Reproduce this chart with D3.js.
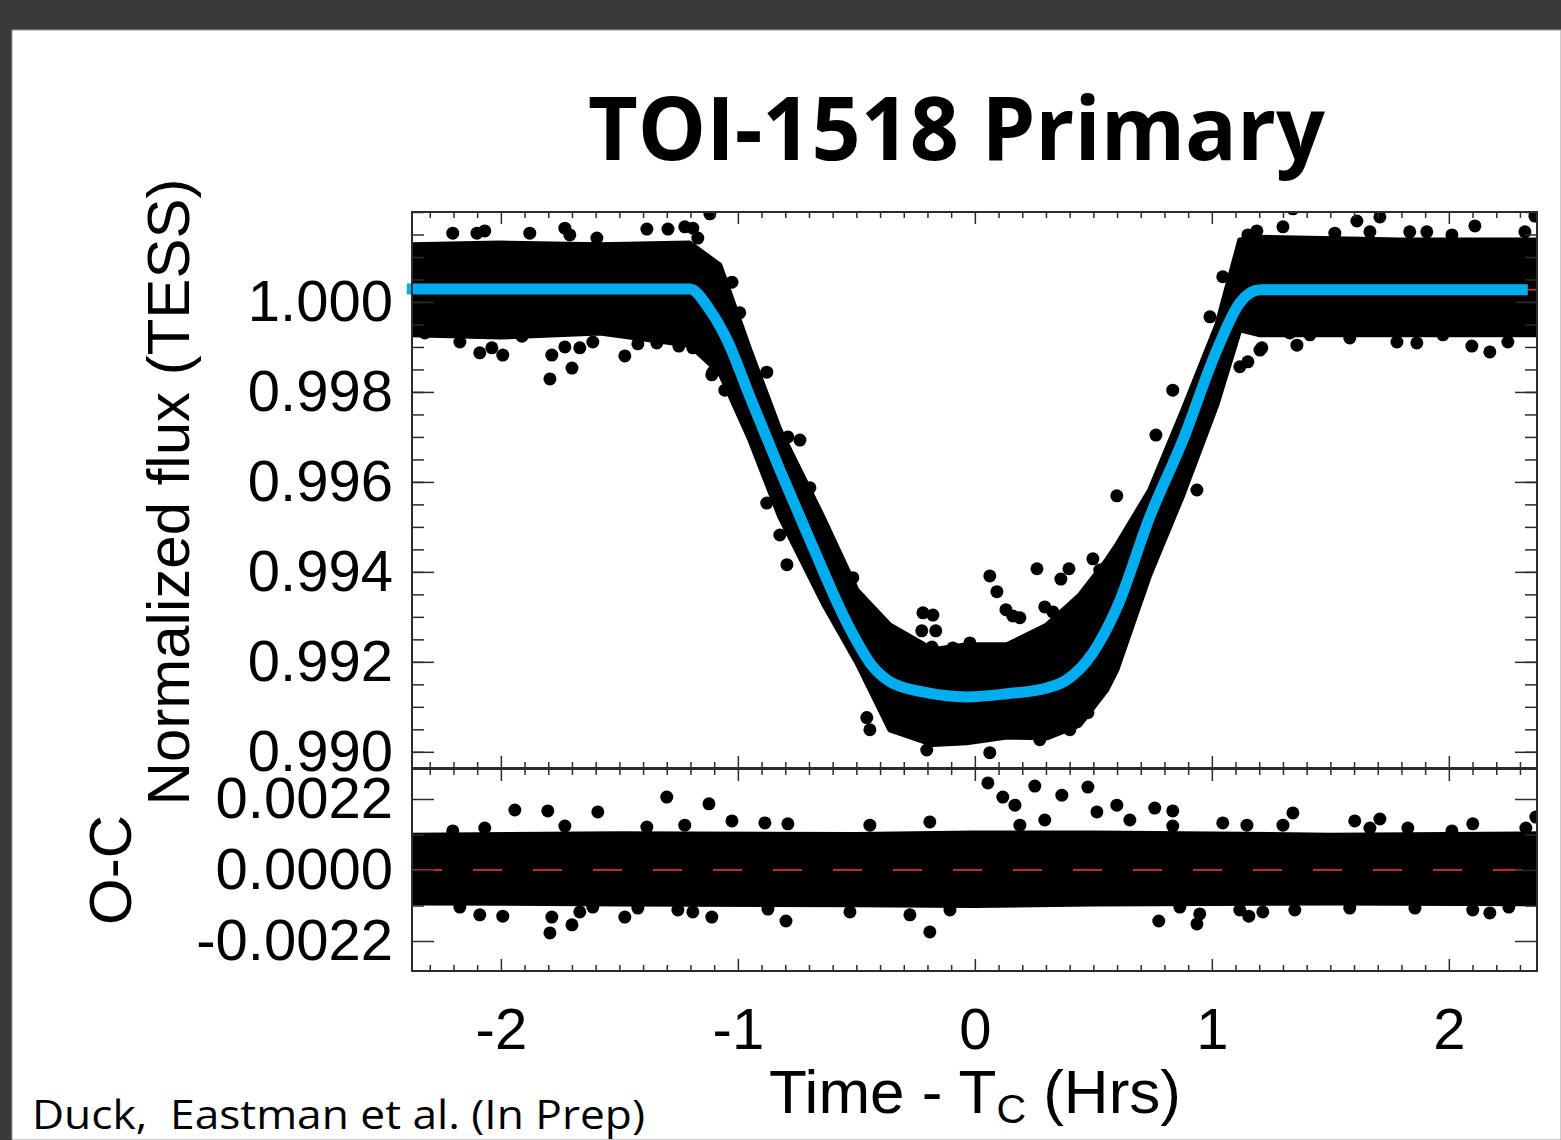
<!DOCTYPE html>
<html>
<head>
<meta charset="utf-8">
<script src="https://cdn.jsdelivr.net/npm/d3@7"></script>
<style>
  html, body { margin: 0; padding: 0; background: #3a3a3a; }
  svg { display: block; }
</style>
</head>
<body>
<div id="chart"></div>
<script>
// ---- data ----
// model light curve (time in hrs from Tc, normalized flux)
var modelT = [-2.397, -1.203, -1.118, -1.046, -0.949, -0.823, -0.684, -0.540, -0.430, -0.359,
              -0.219, -0.034, 0.135, 0.304, 0.388, 0.498, 0.599, 0.738, 0.878, 1.021, 1.118, 1.203, 2.333];
var modelF = [1.00029, 1.00029, 0.99982, 0.99916, 0.99789, 0.99627, 0.99456, 0.99287, 0.99189, 0.99156,
              0.99133, 0.99122, 0.99129, 0.99142, 0.99160, 0.99220, 0.99320, 0.99522, 0.99693, 0.99893, 0.99998, 1.00027, 1.00027];

// dense part of the TESS point cloud: upper / lower edge
var bandT  = [-2.375, -2.004, -1.582, -1.203, -1.076, -0.949, -0.823, -0.641, -0.498, -0.359, -0.177, -0.034,
              0.135, 0.304, 0.443, 0.557, 0.599, 0.738, 0.878, 1.021, 1.118, 1.203, 1.793, 2.372];
var bandHi = [1.00127, 1.00131, 1.00127, 1.00131, 1.00082, 0.99893, 0.99716, 0.99522, 0.99360, 0.99282, 0.99227, 0.99238,
              0.99238, 0.99282, 0.99349, 0.99427, 0.99460, 0.99582, 0.99760, 0.99949, 1.00138, 1.00144, 1.00138, 1.00138];
var bandLo = [0.99927, 0.99922, 0.99931, 0.99904, 0.99842, 0.99693, 0.99522, 0.99331, 0.99198, 0.99049, 0.99016, 0.99020,
              0.99033, 0.99031, 0.99060, 0.99138, 0.99182, 0.99393, 0.99571, 0.99771, 0.99938, 0.99927, 0.99927, 0.99927];

// individual points standing out of the cloud
var fluxDotT = [-2.203, -2.101, -2.068, -1.878, -1.730, -1.709, -1.595, -1.384, -1.295, -1.224, -1.190, -1.118, -1.169,
                -2.321, -2.245, -2.173, -2.089, -2.038, -1.992, -1.911, -1.785, -1.793, -1.700, -1.730, -1.667, -1.612,
                -1.477, -1.422, -1.342, -1.249, -1.190, -1.131, -1.105, -1.055, -0.992, -1.025, -0.878, -0.789, -0.738,
                -0.696, -0.793, -0.515, -0.878, -0.823, -0.219, -0.177, -0.456, -0.443, -1.110,
                0.063, 0.262, 0.397, 0.363, 0.093, 0.131, 0.160, 0.190, 0.295, 0.329, -0.224, -0.165, -0.181, -0.093, -0.021,
                0.498, 0.527, 0.063, -0.203, 0.274, 0.401, 0.477,
                0.835, 0.764, 0.599, 0.937, 1.152, 1.203, 1.329, 1.359, 0.612,
                1.152, 1.190, 1.300, 1.342, 1.612, 1.709, 1.667, 1.835, 1.907, 2.013, 2.110, 2.321, 2.363, 1.519, 1.046, 0.992,
                1.414, 1.582, 1.781, 1.865, 1.975, 2.097, 2.173, 2.249, 1.211, 1.118];
var fluxDotF = [1.00153, 1.00153, 1.00158, 1.00153, 1.00164, 1.00149, 1.00142, 1.00162, 1.00162, 1.00167, 1.00164, 1.00196, 1.00142,
                0.99931, 0.99938, 0.99911, 0.99887, 0.99898, 0.99882, 0.99924, 0.99882, 0.99829, 0.99853, 0.99900, 0.99898, 0.99911,
                0.99880, 0.99907, 0.99909, 0.99902, 0.99898, 0.99882, 0.99844, 0.99804, 0.99976, 1.00044, 0.99844, 0.99700, 0.99693,
                0.99587, 0.99416, 0.99387, 0.99553, 0.99482, 0.99309, 0.99304, 0.99076, 0.99049, 0.99838,
                0.99391, 0.99407, 0.99407, 0.99384, 0.99356, 0.99316, 0.99302, 0.99298, 0.99322, 0.99311, 0.99269, 0.99269, 0.99233, 0.99231, 0.99242,
                0.99429, 0.99404, 0.98998, 0.99004, 0.99027, 0.99049, 0.99087,
                0.99804, 0.99704, 0.99569, 0.99582, 0.99867, 0.99893, 0.99931, 0.99904, 0.99242,
                1.00149, 1.00158, 1.00167, 1.00207, 1.00180, 1.00189, 1.00156, 1.00156, 1.00156, 1.00149, 1.00169, 1.00156, 1.00191, 1.00153, 1.00056, 0.99967,
                0.99927, 0.99920, 0.99911, 0.99909, 0.99927, 0.99902, 0.99889, 0.99911, 0.99898, 0.99856];

// residuals (O-C)
var resBandT  = [-2.375, -1.5, -0.5, 0, 0.5, 1.5, 2.372];
var resBandHi = [0.00108, 0.00112, 0.00110, 0.00115, 0.00115, 0.00108, 0.00112];
var resBandLo = [-0.00102, -0.00105, -0.00108, -0.00110, -0.00105, -0.00102, -0.00105];

var resDotT = [-1.941, -1.802, -1.591, -1.300, -1.122, -2.203, -2.068, -1.730, -1.384, -1.224, -1.025, -0.886, -0.789,
               -2.173, -2.089, -1.992, -1.785, -1.793, -1.700, -1.667, -1.612, -1.477, -1.422, -1.253, -1.190, -1.110, -0.873, -0.797,
               0.759, 0.835, 0.835, 1.342, 1.046, 1.148, 1.300, 1.603, 1.709, 1.667, 1.827, 2.013, 2.101, 2.325, 2.367,
               0.776, 0.937, 0.949, 0.865, 1.118, 1.156, 1.215, 1.350, 1.582, 1.857, 2.101, 2.173, 2.253,
               0.055, 0.118, 0.169, 0.253, 0.295, 0.367, 0.477, 0.515, 0.599, 0.654,
               -0.190, -0.274, -0.527, -0.105, -0.443, -0.190, 0.190];
var resDotR = [0.00186, 0.00183, 0.00180, 0.00226, 0.00205, 0.00121, 0.00130, 0.00136, 0.00133, 0.00139, 0.00152, 0.00146, 0.00143,
               -0.00115, -0.00139, -0.00143, -0.00146, -0.00195, -0.00170, -0.00130, -0.00115, -0.00146, -0.00118, -0.00124, -0.00130, -0.00146, -0.00121, -0.00158,
               0.00192, 0.00183, 0.00136, 0.00177, 0.00146, 0.00139, 0.00139, 0.00152, 0.00158, 0.00130, 0.00130, 0.00121, 0.00143, 0.00130, 0.00164,
               -0.00158, -0.00167, -0.00136, -0.00115, -0.00124, -0.00143, -0.00130, -0.00124, -0.00118, -0.00118, -0.00124, -0.00133, -0.00115,
               0.00270, 0.00226, 0.00201, 0.00260, 0.00155, 0.00232, 0.00257, 0.00180, 0.00201, 0.00155,
               -0.00192, -0.00139, -0.00130, -0.00124, 0.00139, 0.00149, 0.00139];

// ticks
var timeTicks = [-2, -1, 0, 1, 2];
var fluxTicks = [0.990, 0.992, 0.994, 0.996, 0.998, 1.000];
var resTicks  = [-0.0022, 0, 0.0022];

var titleText = "TOI-1518 Primary";
var creditText = "Duck,  Eastman et al. (In Prep)";

// ---- layout ----
var W = 1561, H = 1140;
var left = 412, right = 1537;
var topY0 = 212, topY1 = 768, resY0 = 769, resY1 = 971;
var tickFont = "'Liberation Sans', Arial, Helvetica, sans-serif";
var frameColor = "#2b2b2b";
var dotR = 6.5;

var x = d3.scaleLinear().domain([-2.375, 2.372]).range([left, right]);
var yFlux = d3.scaleLinear().domain([0.98964, 1.002]).range([topY1, topY0]);
var yRes = d3.scaleLinear().domain([-0.00313, 0.00313]).range([resY1, resY0]);

var timeMinor = d3.range(-23, 24).filter(d => d % 10 !== 0).map(d => d / 10);
var fluxMinor = d3.range(0, 25).map(d => 0.990 + d * 0.0005);
var resMinor = [-0.0011, 0.0011];

var svg = d3.select("#chart").append("svg")
    .attr("width", W)
    .attr("height", H);

svg.append("rect").attr("width", W).attr("height", H).attr("fill", "#3a3a3a");
svg.append("rect").attr("x", 12).attr("y", 30).attr("width", W - 12).attr("height", H - 30)
    .attr("fill", "#ffffff").attr("stroke", "#9a9a9a").attr("stroke-width", 1);

var defs = svg.append("defs");
defs.append("clipPath").attr("id", "clipTop").append("rect")
    .attr("x", left).attr("y", topY0).attr("width", right - left).attr("height", topY1 - topY0);
defs.append("clipPath").attr("id", "clipRes").append("rect")
    .attr("x", left).attr("y", resY0).attr("width", right - left).attr("height", resY1 - resY0);

// ---- top panel: light curve ----
var band = bandT.map((t, i) => ({ t: t, hi: bandHi[i], lo: bandLo[i] }));
var fluxDots = fluxDotT.map((t, i) => ({ t: t, f: fluxDotF[i] }));
var model = modelT.map((t, i) => ({ t: t, f: modelF[i] }));

var gTop = svg.append("g").attr("clip-path", "url(#clipTop)");

gTop.append("path")
    .datum(band)
    .attr("fill", "#000")
    .attr("stroke", "#000")
    .attr("stroke-width", 5)
    .attr("stroke-linejoin", "round")
    .attr("d", d3.area()
      .x(d => x(d.t))
      .y0(d => yFlux(d.lo))
      .y1(d => yFlux(d.hi)));

gTop.selectAll("circle.dot")
  .data(fluxDots)
  .enter().append("circle")
    .attr("class", "dot")
    .attr("cx", d => x(d.t))
    .attr("cy", d => yFlux(d.f))
    .attr("r", dotR)
    .attr("fill", "#000");

// thin red fit underneath (only the tail shows past the blue line)
var redModel = model.concat([{ t: x.domain()[1], f: modelF[modelF.length - 1] }]);
gTop.append("path")
    .datum(redModel)
    .attr("fill", "none")
    .attr("stroke", "#c0282d")
    .attr("stroke-width", 2)
    .attr("d", d3.line().x(d => x(d.t)).y(d => yFlux(d.f)).curve(d3.curveMonotoneX));

svg.append("path")
    .datum(model)
    .attr("fill", "none")
    .attr("stroke", "#00aeef")
    .attr("stroke-width", 11)
    .attr("stroke-linejoin", "round")
    .attr("d", d3.line().x(d => x(d.t)).y(d => yFlux(d.f)).curve(d3.curveMonotoneX));

// ---- bottom panel: residuals ----
var resBand = resBandT.map((t, i) => ({ t: t, hi: resBandHi[i], lo: resBandLo[i] }));
var resDots = resDotT.map((t, i) => ({ t: t, r: resDotR[i] }));

var gRes = svg.append("g").attr("clip-path", "url(#clipRes)");

gRes.append("path")
    .datum(resBand)
    .attr("fill", "#000")
    .attr("stroke", "#000")
    .attr("stroke-width", 5)
    .attr("stroke-linejoin", "round")
    .attr("d", d3.area()
      .x(d => x(d.t))
      .y0(d => yRes(d.lo))
      .y1(d => yRes(d.hi)));

gRes.selectAll("circle.dot")
  .data(resDots)
  .enter().append("circle")
    .attr("class", "dot")
    .attr("cx", d => x(d.t))
    .attr("cy", d => yRes(d.r))
    .attr("r", dotR)
    .attr("fill", "#000");

gRes.append("line")
    .attr("x1", left + 1).attr("x2", right)
    .attr("y1", yRes(0)).attr("y2", yRes(0))
    .attr("stroke", "#c0282d")
    .attr("stroke-width", 2)
    .attr("stroke-dasharray", "29,31");

// ---- axes ----
function styleAxis(g) {
  g.select(".domain").remove();
  g.selectAll(".tick line").attr("stroke", frameColor).attr("stroke-width", 1.5);
  g.attr("font-family", tickFont).attr("font-size", 58);
  g.selectAll(".tick text").attr("fill", "#000");
}

function drawXTicks(yPos, isTop, labels) {
  var make = isTop ? d3.axisTop : d3.axisBottom;
  svg.append("g")
      .attr("transform", "translate(0," + yPos + ")")
      .call(make(x).tickValues(timeMinor).tickSize(-6).tickFormat(""))
      .call(styleAxis);
  svg.append("g")
      .attr("transform", "translate(0," + yPos + ")")
      .call(make(x).tickValues(timeTicks).tickSize(-12).tickPadding(37)
        .tickFormat(labels ? (d => d.toFixed(0)) : ""))
      .call(styleAxis);
}

function drawYTicks(scale, major, minor, fmt) {
  svg.append("g")
      .attr("transform", "translate(" + left + ",0)")
      .call(d3.axisLeft(scale).tickValues(minor).tickSize(-12).tickFormat(""))
      .call(styleAxis);
  svg.append("g")
      .attr("transform", "translate(" + left + ",0)")
      .call(d3.axisLeft(scale).tickValues(major).tickSize(-22).tickPadding(19).tickFormat(fmt))
      .call(styleAxis);
  svg.append("g")
      .attr("transform", "translate(" + right + ",0)")
      .call(d3.axisRight(scale).tickValues(minor).tickSize(-12).tickFormat(""))
      .call(styleAxis);
  svg.append("g")
      .attr("transform", "translate(" + right + ",0)")
      .call(d3.axisRight(scale).tickValues(major).tickSize(-22).tickFormat(""))
      .call(styleAxis);
}

drawXTicks(topY0, true, false);
drawXTicks(topY1, false, false);
drawXTicks(resY0, true, false);
drawXTicks(resY1, false, true);

drawYTicks(yFlux, fluxTicks, fluxMinor, d => d.toFixed(3));
drawYTicks(yRes, resTicks, resMinor, d => d.toFixed(4));

// frames
svg.append("rect")
    .attr("x", left).attr("y", topY0).attr("width", right - left).attr("height", topY1 - topY0)
    .attr("fill", "none").attr("stroke", frameColor).attr("stroke-width", 2);
svg.append("rect")
    .attr("x", left).attr("y", resY0).attr("width", right - left).attr("height", resY1 - resY0)
    .attr("fill", "none").attr("stroke", frameColor).attr("stroke-width", 2);

// ---- titles ----
svg.append("text")
    .attr("x", 588).attr("y", 160)
    .attr("font-family", "'Open Sans', 'DejaVu Sans', sans-serif")
    .attr("font-weight", 700)
    .attr("font-size", 88)
    .attr("textLength", 737)
    .attr("lengthAdjust", "spacingAndGlyphs")
    .attr("fill", "#000")
    .text(titleText);

svg.append("text")
    .attr("transform", "translate(189,492) rotate(-90)")
    .attr("text-anchor", "middle")
    .attr("font-family", tickFont)
    .attr("font-size", 60)
    .attr("fill", "#000")
    .text("Normalized flux (TESS)");

svg.append("text")
    .attr("transform", "translate(131,870) rotate(-90)")
    .attr("text-anchor", "middle")
    .attr("font-family", tickFont)
    .attr("font-size", 60)
    .attr("fill", "#000")
    .text("O-C");

var xTitle = svg.append("text")
    .attr("x", 975).attr("y", 1113)
    .attr("text-anchor", "middle")
    .attr("font-family", tickFont)
    .attr("font-size", 62)
    .attr("fill", "#000");
xTitle.append("tspan").text("Time - T");
xTitle.append("tspan").attr("font-size", 41).attr("dy", 10).text("C");
xTitle.append("tspan").attr("dy", -10).text(" (Hrs)");

svg.append("text")
    .attr("x", 32).attr("y", 1129)
    .attr("font-family", "'Open Sans', 'DejaVu Sans', sans-serif")
    .attr("font-size", 40)
    .attr("textLength", 613)
    .attr("lengthAdjust", "spacingAndGlyphs")
    .attr("fill", "#000")
    .style("white-space", "pre")
    .text(creditText);
</script>
</body>
</html>
